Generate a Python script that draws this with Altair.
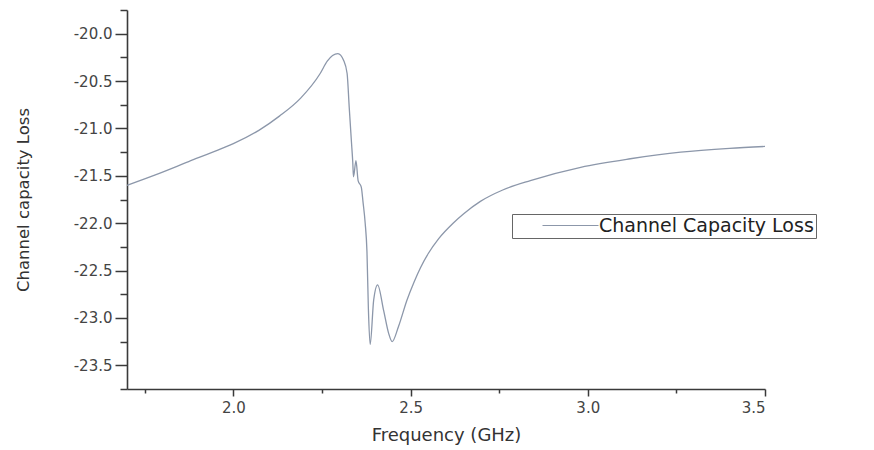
import altair as alt
import pandas as pd

# ---- data ----
freq_ghz = [1.70, 1.78, 1.874, 1.968, 2.00, 2.072, 2.13, 2.19, 2.245, 2.265, 2.28, 2.295,
            2.311, 2.321, 2.327, 2.333, 2.337, 2.339, 2.346, 2.352, 2.361, 2.366, 2.372,
            2.377, 2.381, 2.386, 2.396, 2.407, 2.424, 2.438, 2.448, 2.466, 2.49, 2.51,
            2.528, 2.55, 2.58, 2.62, 2.65, 2.697, 2.76, 2.838, 2.98, 3.12, 3.262, 3.40, 3.50]
loss_db = [-21.60, -21.49, -21.35, -21.21, -21.16, -21.02, -20.87, -20.68, -20.42, -20.29,
           -20.23, -20.21, -20.28, -20.42, -20.78, -21.13, -21.36, -21.51, -21.34, -21.55,
           -21.62, -21.78, -22.00, -22.30, -22.90, -23.28, -22.81, -22.65, -22.92, -23.16,
           -23.25, -23.09, -22.81, -22.62, -22.47, -22.32, -22.16, -22.00, -21.90, -21.77,
           -21.65, -21.55, -21.41, -21.32, -21.25, -21.21, -21.19]
series_name = "Channel Capacity Loss"

x_major = [2.0, 2.5, 3.0, 3.5]
x_minor = [1.75, 2.25, 2.75, 3.25]
y_major = [-20.0, -20.5, -21.0, -21.5, -22.0, -22.5, -23.0, -23.5]
y_minor = [-19.75, -20.25, -20.75, -21.25, -21.75, -22.25, -22.75, -23.25, -23.75]

df = pd.DataFrame({"freq": freq_ghz, "loss": loss_db,
                   "series": [series_name] * len(freq_ghz)})

AXIS_COLOR = "#3a3a3a"
LINE_COLOR = "#8c97aa"
FONT = "DejaVu Sans"
minus_fix = "replace(datum.label, '\u2212', '-')"

x_scale = alt.Scale(domain=[1.70, 3.5], nice=False, zero=False)
y_scale = alt.Scale(domain=[-23.75, -19.75], nice=False, zero=False)

line = alt.Chart(df).mark_line(interpolate="monotone", strokeWidth=1.3).encode(
    x=alt.X("freq:Q", scale=x_scale,
            axis=alt.Axis(values=x_major, format=".1f", title="Frequency (GHz)",
                          grid=False, domainColor=AXIS_COLOR, domainWidth=1.6,
                          tickColor=AXIS_COLOR, tickWidth=1.5, tickSize=7,
                          labelFont=FONT, labelFontSize=15, labelColor="#444",
                          labelPadding=4, titleFont=FONT, titleFontSize=18,
                          titleFontWeight="normal", titleColor="#333",
                          titlePadding=11)),
    y=alt.Y("loss:Q", scale=y_scale,
            axis=alt.Axis(values=y_major, format=".1f", labelExpr=minus_fix,
                          title="Channel capacity Loss", grid=False,
                          domainColor=AXIS_COLOR, domainWidth=1.6,
                          tickColor=AXIS_COLOR, tickWidth=1.5, tickSize=12,
                          labelFont=FONT, labelFontSize=15, labelColor="#444",
                          labelPadding=3, titleFont=FONT, titleFontSize=16.5,
                          titleFontWeight="normal", titleColor="#333",
                          titlePadding=42)),
    color=alt.Color("series:N", scale=alt.Scale(range=[LINE_COLOR]),
                    legend=alt.Legend(title=None, orient="none", legendX=385, legendY=204,
                                      symbolType="M-9.33,0H9.33", symbolSize=36,
                                      symbolStrokeWidth=1.2, symbolOffset=47,
                                      labelFont=FONT, labelFontSize=19, labelColor="#222",
                                      labelOffset=19, labelLimit=500, strokeColor="#666",
                                      fillColor="white", padding=2)),
)

minor = alt.Chart(df).mark_line(opacity=0).encode(
    x=alt.X("freq:Q", scale=x_scale,
            axis=alt.Axis(values=x_minor, labels=False, domain=False, grid=False,
                          tickColor=AXIS_COLOR, tickWidth=1.5, tickSize=4,
                          title="", orient="bottom")),
    y=alt.Y("loss:Q", scale=y_scale,
            axis=alt.Axis(values=y_minor, labels=False, domain=False, grid=False,
                          tickColor=AXIS_COLOR, tickWidth=1.5, tickSize=7,
                          title="", orient="left")),
)

chart = alt.layer(line, minor).resolve_axis(
    x="independent", y="independent"
).properties(
    width=638, height=379,
    padding={"left": 119, "top": 2, "right": 90, "bottom": 60},
    autosize=alt.AutoSizeParams(type="none"),
).configure_view(stroke=None)

chart.save("out.html", embed_options={"renderer": "svg", "actions": False})
